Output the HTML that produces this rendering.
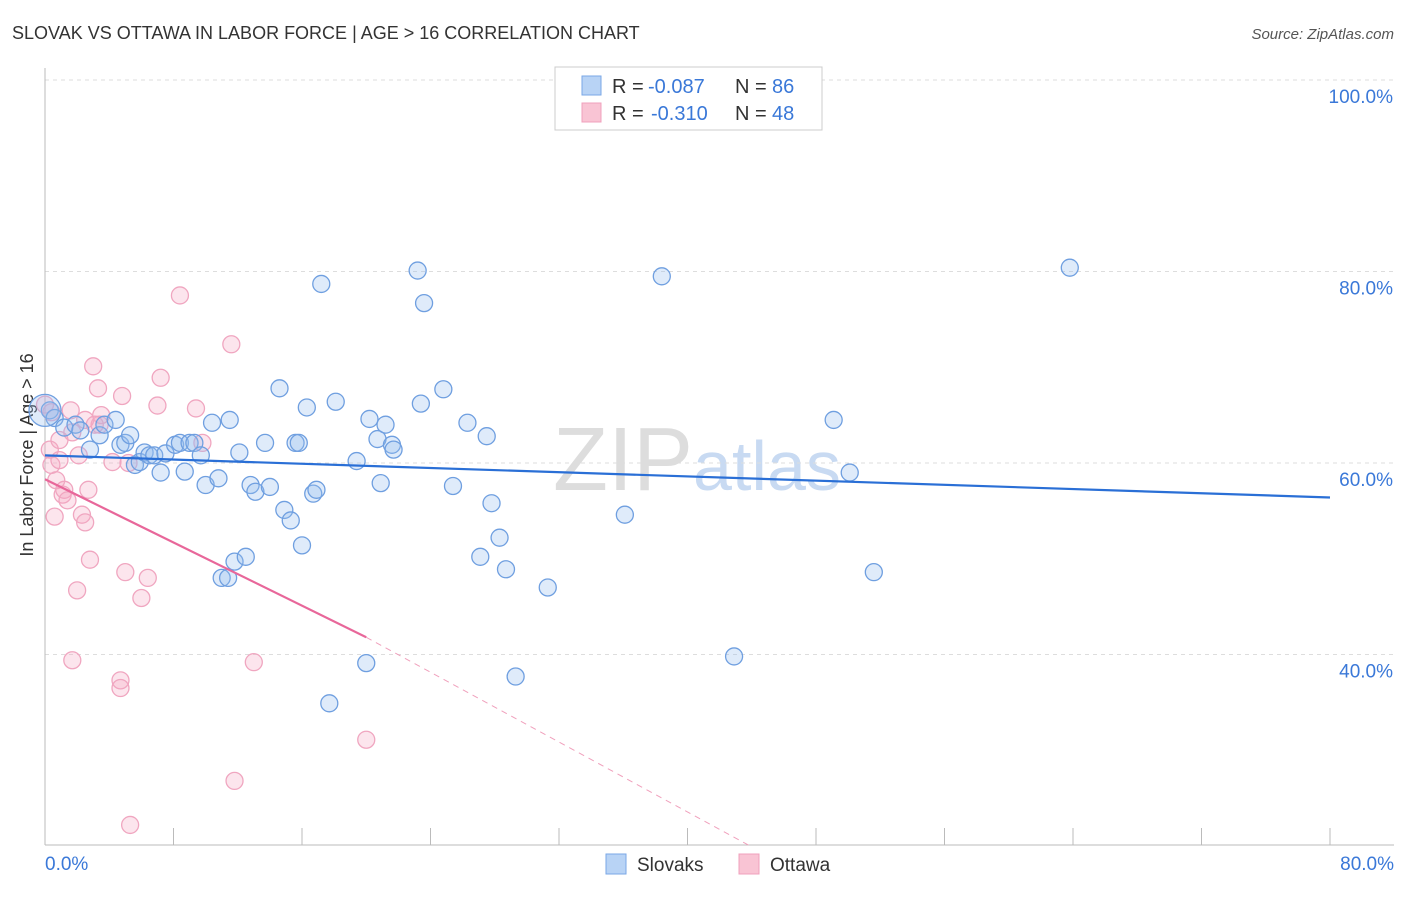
<!DOCTYPE html>
<html><head><meta charset="utf-8"><style>
body{margin:0;background:#fff;font-family:"Liberation Sans",sans-serif;}
svg text{font-family:"Liberation Sans",sans-serif;}
</style></head><body>
<svg id="c" width="1406" height="892" xmlns="http://www.w3.org/2000/svg">
<text x="12" y="39" font-size="18" fill="#333">SLOVAK VS OTTAWA IN LABOR FORCE | AGE &gt; 16 CORRELATION CHART</text>
<text x="1394" y="39" font-size="15" fill="#555" font-style="italic" text-anchor="end">Source: ZipAtlas.com</text>
<text x="33" y="455" font-size="18" fill="#333" text-anchor="middle" transform="rotate(-90 33 455)">In Labor Force | Age &gt; 16</text>
<text x="553" y="490" font-size="90" fill="#ddd" font-family="Liberation Serif">ZIP<tspan fill="#c8daf2" font-family="Liberation Sans" font-size="70">atlas</tspan></text>
<g id="grid"></g><g id="pts"></g><g id="trend"></g>
<g>
<rect x="555" y="67" width="267" height="63" fill="#fff" stroke="#ccc"/>
<rect x="582" y="76" width="19" height="19" fill="#b8d3f5" stroke="#7aa7e6"/>
<rect x="582" y="103" width="19" height="19" fill="#f9c4d4" stroke="#f0a0bc"/>
<text x="612" y="93" font-size="20" fill="#333">R = <tspan x="648" fill="#3a78d8">-0.087</tspan><tspan x="735">N = </tspan><tspan x="772" fill="#3a78d8">86</tspan></text>
<text x="612" y="120" font-size="20" fill="#333">R = <tspan x="651" fill="#3a78d8">-0.310</tspan><tspan x="735">N = </tspan><tspan x="772" fill="#3a78d8">48</tspan></text>
</g>
<g>
<rect x="606" y="854" width="20" height="20" fill="#b8d3f5" stroke="#7aa7e6"/>
<text x="637" y="871" font-size="19" fill="#333">Slovaks</text>
<rect x="739" y="854" width="20" height="20" fill="#f9c4d4" stroke="#f0a0bc"/>
<text x="770" y="871" font-size="19" fill="#333">Ottawa</text>
</g>
</svg>
<script>
const yTicks=[100,80,60,40];
const yTickLabels=["100.0%","80.0%","60.0%","40.0%"];
const blueX=[0.3,0.6,1.2,1.9,2.2,2.8,3.4,3.7,4.4,4.7,5.0,5.3,5.6,5.9,6.2,6.5,6.8,7.2,7.5,8.1,8.4,8.7,9.0,9.3,9.7,10.0,10.4,10.8,11.0,11.4,11.5,11.8,12.1,12.5,12.8,13.1,13.7,14.0,14.6,14.9,15.3,15.6,15.8,16.0,16.3,16.7,16.9,17.2,17.7,18.1,19.4,20.0,20.2,20.7,20.9,21.2,21.6,21.7,23.2,23.4,23.6,24.8,25.4,26.3,27.1,27.5,27.8,28.3,28.7,29.3,31.3,36.1,38.4,42.9,49.1,50.1,51.6,63.8];
const blueY=[65.5,64.7,63.7,64.0,63.4,61.4,62.9,64.0,64.5,61.9,62.1,62.9,59.8,60.1,61.1,60.8,60.8,59.0,61.0,61.9,62.1,59.1,62.1,62.1,60.8,57.7,64.2,58.4,48.0,48.0,64.5,49.7,61.1,50.2,57.7,57.0,62.1,57.5,67.8,55.1,54.0,62.1,62.1,51.4,65.8,56.8,57.2,78.7,34.9,66.4,60.2,39.1,64.6,62.5,57.9,64.0,61.9,61.4,80.1,66.2,76.7,67.7,57.6,64.2,50.2,62.8,55.8,52.2,48.9,37.7,47.0,54.6,79.5,39.8,64.5,59.0,48.6,80.4];
const pinkX=[0,0.3,0.4,0.6,0.7,0.9,1.1,1.2,1.4,1.6,1.7,2.0,1.7,2.1,2.3,2.5,2.7,2.8,3.0,3.3,3.4,3.5,4.2,4.7,4.7,4.8,5.0,5.2,5.3,6.0,6.4,7.0,7.2,8.4,9.4,9.8,11.6,11.8,13.0,20.0,2.5,3.1,0.9,0.4];
const pinkY=[66.1,61.4,59.8,54.4,58.2,62.4,56.7,57.2,56.1,65.5,63.2,46.7,39.4,60.8,54.6,53.8,57.2,49.9,70.1,67.8,64.0,65.0,60.1,37.3,36.5,67.0,48.6,60.0,22.2,45.9,48.0,66.0,68.9,77.5,65.7,62.1,72.4,26.8,39.2,31.1,64.5,64.0,60.3,65.3];
const blueTrend=[[0,60.8],[80,56.4]];
const pinkTrend=[[0,58.3],[20,41.8]];
const pinkDash=[[20,41.8],[43.9,20]];
const X=v=>45+v*1285/80, Y=v=>80+(100-v)*9.575;
const NS="http://www.w3.org/2000/svg";
function mk(t,a,p){const e=document.createElementNS(NS,t);for(const k in a)e.setAttribute(k,a[k]);p.appendChild(e);return e;}
const g=document.getElementById('grid');
yTicks.forEach((t,i)=>{
 const l=mk('line',{x1:45,x2:1394,y1:Y(t),y2:Y(t),stroke:'#ddd','stroke-dasharray':'4,4'},g);
 
 
 const tx=mk('text',{x:1393,y:Y(t)+23,'font-size':19,fill:'#3a78d8','text-anchor':'end'},g);
 tx.textContent=yTickLabels[i];
 
 
});
const ax=mk('line',{x1:45,x2:1394,y1:845,y2:845,stroke:'#bbb'},g);


const ay=mk('line',{x1:45,x2:45,y1:68,y2:845,stroke:'#bbb'},g);


for(let k=1;k<=10;k++){const tk=mk('line',{x1:X(k*8),x2:X(k*8),y1:828,y2:845,stroke:'#bbb'},g);
 
 }
const x0=mk('text',{x:45,y:870,'font-size':19,fill:'#3a78d8'},g);x0.textContent='0.0%';


const x1=mk('text',{x:1394,y:870,'font-size':19,fill:'#3a78d8','text-anchor':'end'},g);x1.textContent='80.0%';


const pg=document.getElementById('pts');
pinkX.forEach((x,i)=>{const c=mk('circle',{cx:X(x),cy:Y(pinkY[i]),r:8.5,fill:'rgba(246,170,196,0.3)',stroke:'#f0a6c0','stroke-width':1.3},pg);
 
 });
blueX.forEach((x,i)=>{const c=mk('circle',{cx:X(x),cy:Y(blueY[i]),r:8.5,fill:'rgba(150,190,240,0.3)',stroke:'#6f9fe0','stroke-width':1.3},pg);
 
 });
const big=mk('circle',{cx:X(0),cy:Y(65.5),r:16,fill:'rgba(150,190,240,0.3)',stroke:'#6f9fe0','stroke-width':1.3},pg);


const tg=document.getElementById('trend');
function ln(p,st,dash,nm){const l=mk('line',{x1:X(p[0][0]),y1:Y(p[0][1]),x2:X(p[1][0]),y2:Y(p[1][1]),stroke:st,'stroke-width':dash?1:2.2},tg);
 if(dash)l.setAttribute('stroke-dasharray','6,5');
 
 }
ln(blueTrend,'#2a6fd6',false,'slovak-trend-line');
ln(pinkTrend,'#e8679a',false,'ottawa-trend-line');
ln(pinkDash,'#f0a0bc',true,'ottawa-trend-extension');
</script>
</body></html>
